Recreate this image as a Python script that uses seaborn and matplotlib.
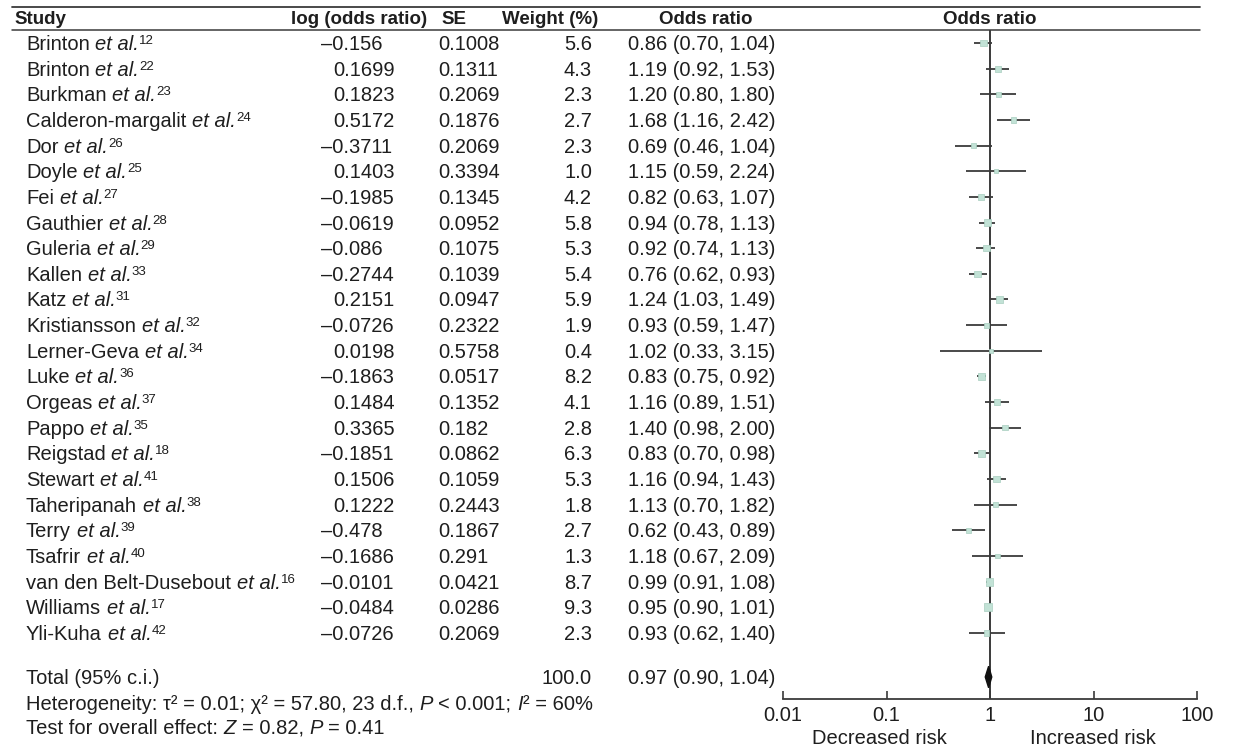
import numpy as np
import seaborn as sns
import matplotlib.pyplot as plt
import matplotlib.transforms as mtransforms

# Data
authors = ["Brinton", "Brinton", "Burkman", "Calderon-margalit", "Dor", "Doyle", "Fei",
           "Gauthier", "Guleria", "Kallen", "Katz", "Kristiansson", "Lerner-Geva", "Luke",
           "Orgeas", "Pappo", "Reigstad", "Stewart", "Taheripanah", "Terry", "Tsafrir",
           "van den Belt-Dusebout", "Williams", "Yli-Kuha"]
refs = ["12", "22", "23", "24", "26", "25", "27", "28", "29", "33", "31", "32", "34", "36",
        "37", "35", "18", "41", "38", "39", "40", "16", "17", "42"]
log_or = ["-0.156", "0.1699", "0.1823", "0.5172", "-0.3711", "0.1403", "-0.1985", "-0.0619",
          "-0.086", "-0.2744", "0.2151", "-0.0726", "0.0198", "-0.1863", "0.1484", "0.3365",
          "-0.1851", "0.1506", "0.1222", "-0.478", "-0.1686", "-0.0101", "-0.0484", "-0.0726"]
se = ["0.1008", "0.1311", "0.2069", "0.1876", "0.2069", "0.3394", "0.1345", "0.0952",
      "0.1075", "0.1039", "0.0947", "0.2322", "0.5758", "0.0517", "0.1352", "0.182",
      "0.0862", "0.1059", "0.2443", "0.1867", "0.291", "0.0421", "0.0286", "0.2069"]
weight = [5.6, 4.3, 2.3, 2.7, 2.3, 1.0, 4.2, 5.8, 5.3, 5.4, 5.9, 1.9, 0.4, 8.2, 4.1, 2.8,
          6.3, 5.3, 1.8, 2.7, 1.3, 8.7, 9.3, 2.3]
odds = [0.86, 1.19, 1.20, 1.68, 0.69, 1.15, 0.82, 0.94, 0.92, 0.76, 1.24, 0.93, 1.02, 0.83,
        1.16, 1.40, 0.83, 1.16, 1.13, 0.62, 1.18, 0.99, 0.95, 0.93]
ci_lo = [0.70, 0.92, 0.80, 1.16, 0.46, 0.59, 0.63, 0.78, 0.74, 0.62, 1.03, 0.59, 0.33, 0.75,
         0.89, 0.98, 0.70, 0.94, 0.70, 0.43, 0.67, 0.91, 0.90, 0.62]
ci_hi = [1.04, 1.53, 1.80, 2.42, 1.04, 2.24, 1.07, 1.13, 1.13, 0.93, 1.49, 1.47, 3.15, 0.92,
         1.51, 2.00, 0.98, 1.43, 1.82, 0.89, 2.09, 1.08, 1.01, 1.40]
total_weight = 100.0
total_or, total_lo, total_hi = 0.97, 0.90, 1.04
ticks = [0.01, 0.1, 1, 10, 100]
tick_labels = ["0.01", "0.1", "1", "10", "100"]

sns.set_theme(style="white")
plt.rcParams["font.family"] = ["Liberation Sans", "DejaVu Sans"]

W, H = 1235, 746
FS = 14.5
HFS = 13.5
SUP = 9.5
TXT = "#1e1e1e"
LINE = "#3a3a3a"

fig = plt.figure(figsize=(W / 100, H / 100), dpi=100)
fig.patch.set_facecolor("white")
renderer = fig.canvas.get_renderer()

# forest axes: x 783..1197 px, y 30..699 px
ax = fig.add_axes([783 / W, 1 - 699 / H, (1197 - 783) / W, (699 - 30) / H])
row0, dy = 43, 25.65
ax.set_ylim((699 - row0) / dy, (30 - row0) / dy)
ax.set_xscale("log")
ax.set_xlim(0.01, 100)

rows = np.arange(len(authors))
total_row = (677 - row0) / dy

ax.hlines(rows, ci_lo, ci_hi, color=LINE, lw=1.3, zorder=2)
sns.scatterplot(x=odds, y=rows, size=weight, sizes=(8, 34), marker="s",
                color="#c2e2d6", edgecolor="#a8cec0", linewidth=0.5,
                legend=False, ax=ax, zorder=3)
ax.fill([total_lo, total_or, total_hi, total_or],
        [total_row, total_row - 0.42, total_row, total_row + 0.42],
        color="#111111", zorder=3)
ax.axvline(1, color=LINE, lw=1.4, zorder=1)

for s in ["top", "left", "right"]:
    ax.spines[s].set_visible(False)
ax.spines["bottom"].set_color(LINE)
ax.spines["bottom"].set_linewidth(1.3)
ax.set_xticks(ticks)
ax.set_xticklabels(tick_labels)
ax.minorticks_off()
ax.tick_params(axis="x", direction="in", length=6, width=1.2, color=LINE,
               labelsize=FS, labelcolor=TXT, pad=5, bottom=True)
ax.set_yticks([])
ax.set_facecolor("none")
ax.set_xlabel("")
ax.set_ylabel("")

# text columns: figure x in pixels, row y in data units
trans = mtransforms.blended_transform_factory(fig.transFigure, ax.transData)
BASE = -7  # baseline sits ~7 px below the row centre


def fx(px):
    return px / W


def fy(py):
    return 1 - py / H


def width(s, **kw):
    t = fig.text(0, 0, s, **kw)
    w = t.get_window_extent(renderer).width
    t.remove()
    return w


space_w = width("n n", fontsize=FS) - width("nn", fontsize=FS)


def rich(x, y, transform, parts):
    # parts: (text, italic, size, rise in px)
    off = 0.0
    for txt, ital, size, rise in parts:
        lead = len(txt) - len(txt.lstrip(" "))
        trail = len(txt) - len(txt.rstrip(" "))
        off += lead * space_w
        core = txt.strip(" ")
        t = fig.text(x, y, core, fontsize=size, color=TXT, ha="left", va="baseline",
                     style="italic" if ital else "normal",
                     transform=mtransforms.offset_copy(transform, fig=fig, x=off,
                                                       y=BASE + rise, units="dots"))
        off += t.get_window_extent(renderer).width + trail * space_w


def cell(x, y, s, ha="left"):
    fig.text(x, y, s, transform=mtransforms.offset_copy(trans, fig=fig, y=BASE, units="dots"),
             fontsize=FS, color=TXT, va="baseline", ha=ha)


for i in rows:
    rich(fx(26), i, trans, [(authors[i] + " ", False, FS, 0), ("et al.", True, FS, 0),
                            (refs[i], False, SUP, 6)])
    v = log_or[i]
    if v.startswith("-"):
        cell(fx(321), i, "\u2013" + v[1:])
    else:
        cell(fx(333), i, v)
    cell(fx(438), i, se[i])
    cell(fx(592), i, f"{weight[i]:.1f}", ha="right")
    cell(fx(628), i, f"{odds[i]:.2f} ({ci_lo[i]:.2f}, {ci_hi[i]:.2f})")

cell(fx(26), total_row, "Total (95% c.i.)")
cell(fx(592), total_row, f"{total_weight:.1f}", ha="right")
cell(fx(628), total_row, f"{total_or:.2f} ({total_lo:.2f}, {total_hi:.2f})")

rich(fx(26), fy(703), fig.transFigure,
     [("Heterogeneity: \u03c4\u00b2 = 0.01; \u03c7\u00b2 = 57.80, 23 d.f., ", False, FS, 0),
      ("P", True, FS, 0), (" < 0.001; ", False, FS, 0), ("I", True, FS, 0),
      ("\u00b2 = 60%", False, FS, 0)])
rich(fx(26), fy(727), fig.transFigure,
     [("Test for overall effect: ", False, FS, 0), ("Z", True, FS, 0),
      (" = 0.82, ", False, FS, 0), ("P", True, FS, 0), (" = 0.41", False, FS, 0)])

# header
hdr = dict(fontsize=HFS, color=TXT, fontweight="bold", va="center_baseline")
fig.text(fx(14), fy(18), "Study", ha="left", **hdr)
fig.text(fx(359), fy(18), "log (odds ratio)", ha="center", **hdr)
fig.text(fx(454), fy(18), "SE", ha="center", **hdr)
fig.text(fx(598), fy(18), "Weight (%)", ha="right", **hdr)
fig.text(fx(706), fy(18), "Odds ratio", ha="center", **hdr)
fig.text(fx(990), fy(18), "Odds ratio", ha="center", **hdr)

fig.add_artist(plt.Line2D([fx(12), fx(1200)], [fy(7), fy(7)], color=LINE, lw=1.3))
fig.add_artist(plt.Line2D([fx(12), fx(1200)], [fy(30), fy(30)], color=LINE, lw=1.1))

fig.text(fx(879), fy(736), "Decreased risk", fontsize=FS, color=TXT,
         ha="center", va="center_baseline")
fig.text(fx(1093), fy(736), "Increased risk", fontsize=FS, color=TXT,
         ha="center", va="center_baseline")

fig.savefig("out.png", dpi=100, facecolor="white")
